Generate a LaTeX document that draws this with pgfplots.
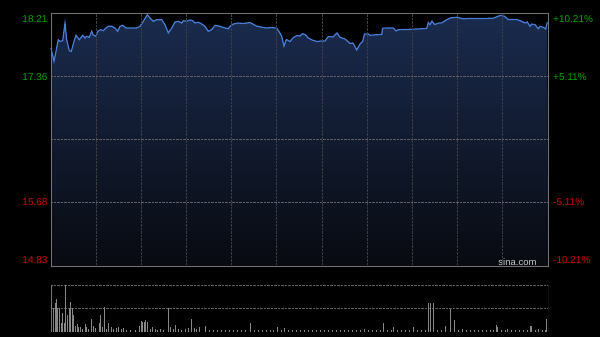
\documentclass[border=0pt]{standalone}
\usepackage{pgfplots}
\usepackage{pgfplotstable}
\pgfplotsset{compat=1.18}
\usepackage{fontspec}
\setmainfont{Liberation Sans}
\definecolor{upgreen}{RGB}{0,165,0}
\definecolor{dnred}{RGB}{210,0,0}
\definecolor{linec}{RGB}{72,125,215}
\definecolor{fillt}{RGB}{26,43,78}
\definecolor{fillb}{RGB}{8,10,16}
\definecolor{framec}{RGB}{115,115,115}
\definecolor{gridv}{RGB}{62,62,66}
\definecolor{gridh}{RGB}{95,95,100}
\definecolor{volc}{RGB}{135,135,135}
\definecolor{sinac}{RGB}{200,200,200}

\pgfplotstableread{
x p
0 17.742
3 17.565
5 17.698
7.3 17.853
9 17.832
11.7 17.840
14 18.076
15.7 17.853
18.3 17.706
20.3 17.698
23 17.832
25 17.912
28.3 17.853
31.7 17.912
34 17.876
35.7 17.899
38.3 17.885
40.7 17.966
42.3 17.912
45 17.899
46.7 17.966
49.7 17.987
52.3 17.974
55 18.010
57.3 18.032
60.7 18.032
64 18.010
66.7 17.966
69 18.032
71.7 18.046
75 18.010
79 18.010
85.7 18.010
89 18.032
92.3 18.099
96.3 18.187
99 18.143
102.3 18.099
105.7 18.121
110.7 18.121
114 18.054
117.3 17.943
120.7 18.010
124 18.090
127.3 18.099
130.7 18.076
132.3 18.107
135.7 18.099
139 18.117
141.7 18.107
144 18.076
147.3 18.086
150.7 18.063
154 18.032
157.3 17.966
160.7 17.987
164 18.046
169 18.032
174 18.010
177.3 18.000
179 18.032
182.3 18.063
187.3 18.076
192.3 18.070
199 18.083
205.7 18.034
212.3 18.016
215.7 18.010
220.7 18.016
225.7 18.007
228 17.963
230.7 17.899
233 17.769
235.3 17.856
239 17.829
242.3 17.883
246 17.909
249 17.903
251.5 17.934
254 17.923
257.3 17.876
260.7 17.852
265.7 17.829
270.7 17.836
274 17.836
277.3 17.896
282 17.889
286 17.943
289 17.885
294 17.863
299 17.803
302 17.809
305.7 17.716
309 17.796
311.7 17.832
313.5 17.930
317.3 17.930
319 17.912
325.7 17.920
330.7 17.922
331.5 18.007
337.3 18.010
342.3 18.010
345 17.970
347.3 17.987
355.7 17.990
365.7 17.996
375.7 18.003
377.3 18.083
379 18.056
381 18.103
383.5 18.056
388 18.076
391 18.079
394 18.107
399 18.143
405.7 18.153
412.3 18.133
419 18.137
425.7 18.137
434 18.137
442.3 18.141
449 18.177
453 18.170
457.3 18.123
465.7 18.123
470.7 18.099
474 18.076
476.3 18.090
479 18.032
480.7 18.063
484 18.054
487.3 18.000
489 18.032
492.3 18.019
494.7 17.996
496.3 18.086
}\pricedata

\pgfplotstableread{
x v
0.7 17
2.3 24
4 29
5 33
6.3 24
8.3 24
10 9
11.7 19
13 9
14.7 47
16.3 17
18 24
19.7 29.7
21.3 24
22.7 17
24.3 6
26.3 8
27.7 5
29.3 5
31.7 3
34 8
35.7 5
37.7 3
40.3 13
42.7 6
44.7 4
48 9
49.7 17
51.3 5
53.3 25
55 3
57.3 9
60 5
62.3 3
65.7 4
67.3 5
70.7 3
72.3 4
75.7 2
79 2
84 2
88.3 6
90 10.7
91.7 10
93.3 10
94.7 12
96.3 10
99 3
101.7 5
104 3
106.3 2
109 3
112.3 2
117.3 24
119 5
122.3 3
124.7 7
127.3 3
130.7 2
134 3
137.3 4
140.7 13
143 4
145.7 3
148.3 5
154 6
158 2
162 1.5
166.3 2
170 1.5
174 1.5
178 1.5
182 1.5
186 1.5
190 2
194 1.5
199 9
203 1.5
207 1.5
211 1.5
215 1.5
219 1.5
222 2
226.7 5
230 1.5
233.3 4
237 1.5
241 1.5
245 1.5
249 1.5
253 1.5
257 1.5
261 1.5
265 1.5
269 1.5
273 1.5
277.3 2
281 1.5
285 1.5
289 1.5
293 1.5
297 1.5
301 1.5
305 1.5
309 1.5
313 3
317 1.5
321 1.5
325 1.5
329 1.5
332.3 9
336 1.5
340 1.5
342.3 5
346 1.5
350 1.5
354 1.5
358 1.5
362.3 5
366 1.5
370 1.5
374 1.5
377.3 29
379.7 29
382.3 29
386 1.5
390 1.5
394.7 6
399 23
403.3 12.3
407 1.5
411.3 3
415 1.5
419 1.5
423 1.5
427 1.5
431 1.5
435 1.5
439 1.5
442 1.5
445 7
446 5
450 1.5
454 1.5
456.3 3
460 1.5
464 1.5
468 1.5
472 1.5
476 1.5
479 6
480 6
484 1.5
487.3 3
491 1.5
494 1.5
495.7 13
}\voldata

\begin{document}
\begin{tikzpicture}[x=1pt,y=1pt]
\fill[black, use as bounding box] (0,0) rectangle (600,337);
\begin{axis}[
  at={(51pt,71pt)}, anchor=south west, scale only axis,
  width=497pt, height=253pt,
  xmin=0, xmax=497, ymin=14.83, ymax=18.21,
  axis on top, clip=false,
  axis line style={framec, line width=0.9pt},
  xtick={45.18,90.36,135.55,180.73,225.91,271.09,316.27,361.45,406.64,451.82},
  ytick={15.68,16.52,17.36},
  xticklabels={}, yticklabels={},
  major tick length=0pt,
  grid=major,
  x grid style={gridv, densely dotted, line width=1pt},
  y grid style={gridh, densely dotted, line width=0.7pt},
  font=\fontsize{10}{12}\selectfont,
]
\addplot[draw=none, top color=fillt, bottom color=fillb] table[x=x,y=p]{\pricedata} -- (axis cs:497,14.83) -- (axis cs:0,14.83) -- cycle;
\addplot[linec, line width=1.2pt, mark=none] table[x=x,y=p]{\pricedata};
\node[anchor=east, inner sep=0pt, text=upgreen, xshift=-3.3pt, yshift=-6pt] at (axis cs:0,18.21) {18.21};
\node[anchor=east, inner sep=0pt, text=upgreen, xshift=-3.3pt] at (axis cs:0,17.36) {17.36};
\node[anchor=east, inner sep=0pt, text=dnred, xshift=-3.3pt] at (axis cs:0,15.68) {15.68};
\node[anchor=east, inner sep=0pt, text=dnred, xshift=-3.3pt, yshift=6pt] at (axis cs:0,14.83) {14.83};
\node[anchor=west, inner sep=0pt, text=upgreen, xshift=5pt, yshift=-6pt] at (axis cs:497,18.21) {+10.21\%};
\node[anchor=west, inner sep=0pt, text=upgreen, xshift=5pt] at (axis cs:497,17.36) {+5.11\%};
\node[anchor=west, inner sep=0pt, text=dnred, xshift=5pt] at (axis cs:497,15.68) {-5.11\%};
\node[anchor=west, inner sep=0pt, text=dnred, xshift=5pt, yshift=6pt] at (axis cs:497,14.83) {-10.21\%};
\node[anchor=east, inner sep=0pt, text=sinac, xshift=-11.3pt, yshift=4.3pt, font=\fontsize{9.5}{11}\selectfont] at (rel axis cs:1,0) {sina.com};
\end{axis}
\begin{axis}[
  at={(51pt,5pt)}, anchor=south west, scale only axis,
  width=497pt, height=47pt,
  xmin=0, xmax=497, ymin=0, ymax=47,
  axis line style={draw=none},
  xtick=\empty, ytick={23.5,47}, yticklabels={},
  major tick length=0pt,
  ymajorgrids,
  major grid style={gridh, densely dotted, line width=0.7pt},
]
\addplot[ycomb, volc, line width=0.9pt, mark=none] table[x=x,y=v]{\voldata};
\draw[framec, line width=0.9pt] (rel axis cs:0,0) -- (rel axis cs:0,1);
\draw[framec, line width=0.9pt] (rel axis cs:1,0) -- (rel axis cs:1,1);
\end{axis}
\end{tikzpicture}
\end{document}
